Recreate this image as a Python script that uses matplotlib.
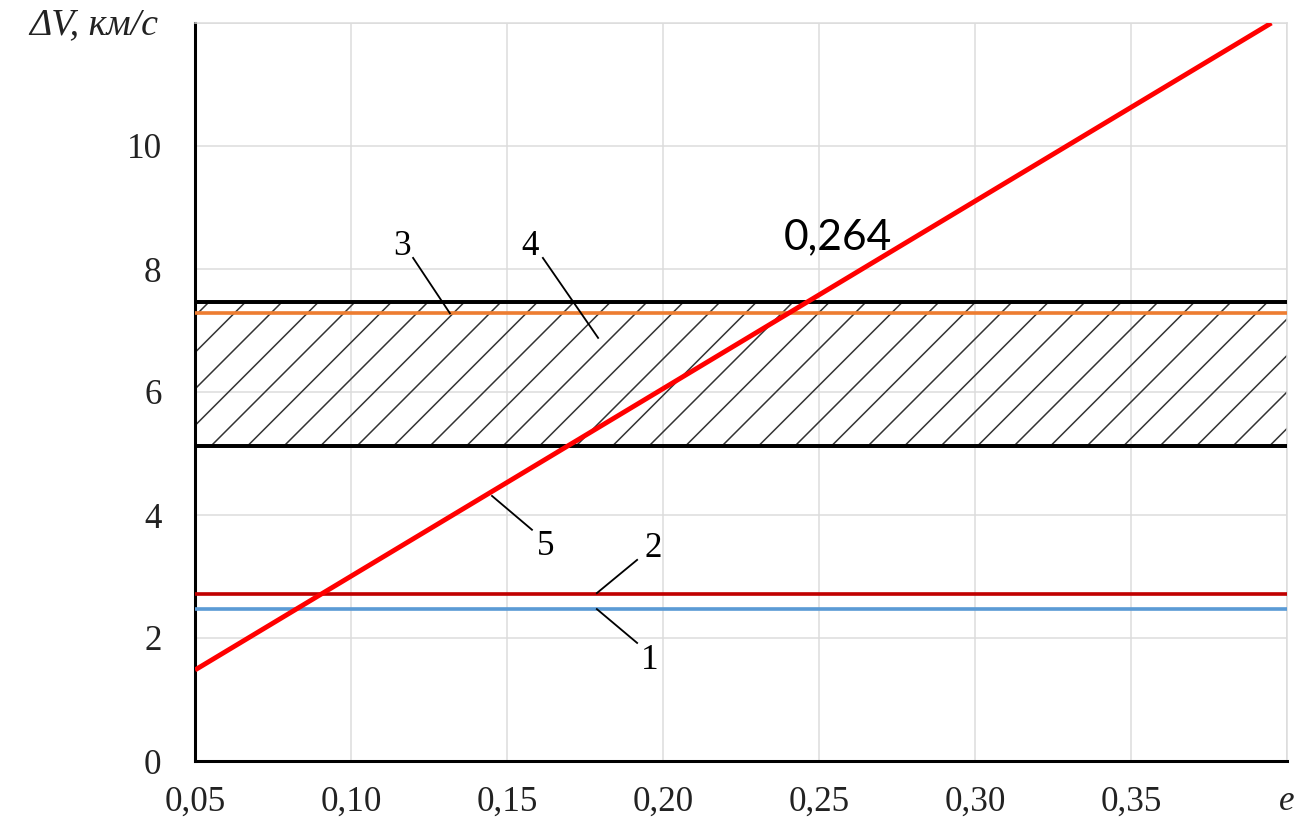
import numpy as np
import matplotlib
matplotlib.use("Agg")
import matplotlib.pyplot as plt

# data
e_line = [0.05, 0.395]          # curve 5, straight line
dv_line = [1.48, 12.0]
dv_1 = 2.47                     # blue
dv_2 = 2.71                     # dark red
dv_3 = 7.28                     # orange
band_low = 5.13                 # hatched zone 4
band_high = 7.47

x_ticks = [0.05, 0.10, 0.15, 0.20, 0.25, 0.30, 0.35, 0.40]
x_labels = ["0,05", "0,10", "0,15", "0,20", "0,25", "0,30", "0,35", "e"]
y_ticks = [0, 2, 4, 6, 8, 10, 12]
y_labels = ["0", "2", "4", "6", "8", "10", ""]

# callout numbers: text position, leader start, leader end
callouts = [
    ("1", (0.1958, 1.64), (0.1788, 2.47), (0.1917, 1.92)),
    ("2", (0.1968, 3.46), (0.1788, 2.73), (0.1917, 3.27)),
    ("3", (0.1163, 8.36), (0.1317, 7.28), (0.1199, 8.18)),
    ("4", (0.1574, 8.36), (0.1792, 6.88), (0.1615, 8.18)),
    ("5", (0.1625, 3.48), (0.1452, 4.31), (0.1580, 3.76)),
]
cross_label = "0,264"
cross_pos = (0.2561, 8.52)

plt.rcParams["font.family"] = ["Liberation Serif", "DejaVu Serif"]
plt.rcParams["hatch.linewidth"] = 0.5

dpi = 219
fig = plt.figure(figsize=(1294 / dpi, 819 / dpi), dpi=dpi)
ax = fig.add_axes([195 / 1294, 1 - 761 / 819, (1287 - 195) / 1294, (761 - 23) / 819])

ax.fill_between([0.05, 0.40], band_low, band_high, facecolor="none",
                edgecolor="#333333", hatch="//", linewidth=0, zorder=1)

ax.axhline(dv_1, color="#5b9bd5", lw=1.2, zorder=3)
ax.axhline(dv_2, color="#c00000", lw=1.2, zorder=3)
ax.axhline(band_high, color="black", lw=1.3, zorder=3)
ax.axhline(band_low, color="black", lw=1.3, zorder=3)
ax.axhline(dv_3, color="#ed7d31", lw=1.2, zorder=3)
ax.plot(e_line, dv_line, color="#ff0000", lw=1.6, zorder=4, solid_capstyle="butt")

for txt, tpos, p0, p1 in callouts:
    ax.plot([p0[0], p1[0]], [p0[1], p1[1]], color="black", lw=0.6, zorder=5)
    ax.text(tpos[0], tpos[1], txt, fontsize=11.5, ha="center", va="center", zorder=6)

ax.text(cross_pos[0], cross_pos[1], cross_label, fontsize=14, family="Lato",
        ha="center", va="center", zorder=6)

ax.set_xlim(0.05, 0.40)
ax.set_ylim(0, 12)
ax.set_xticks(x_ticks)
ax.set_xticklabels(x_labels)
ax.set_yticks(y_ticks)
ax.set_yticklabels(y_labels)
ax.get_xticklabels()[-1].set_style("italic")
ax.tick_params(axis="both", length=0, labelsize=11.5, colors="#222222")
ax.tick_params(axis="x", pad=8)
ax.tick_params(axis="y", pad=11)

ax.grid(True, color="#dcdcdc", lw=0.5)
ax.set_axisbelow(True)
for s in ["top", "right"]:
    ax.spines[s].set_color("#dcdcdc")
    ax.spines[s].set_linewidth(0.5)
for s in ["left", "bottom"]:
    ax.spines[s].set_color("black")
    ax.spines[s].set_linewidth(1.0)

fig.text(158 / 1294, 1 - 25 / 819, "ΔV, км/с", fontsize=12.5, style="italic",
         ha="right", va="center", color="#222222")

fig.savefig("out.png", dpi=dpi)
